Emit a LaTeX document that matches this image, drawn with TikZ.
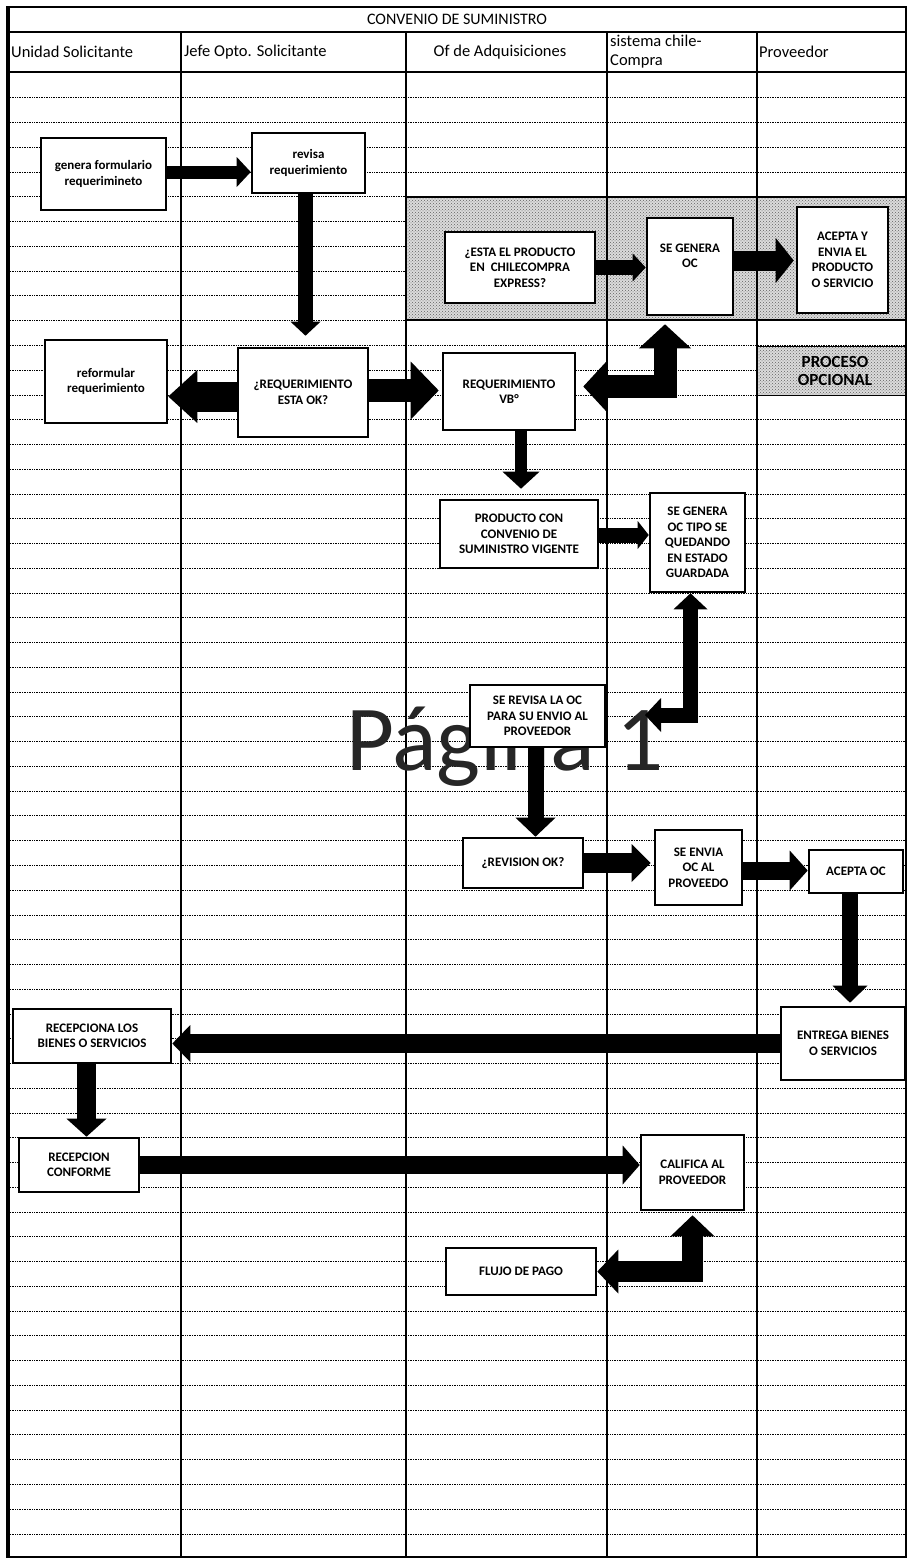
\documentclass[tikz,border=0pt]{standalone}
\usepackage{fontspec}
\setmainfont{Carlito}
\usetikzlibrary{arrows.meta,patterns}
\begin{document}
\begin{tikzpicture}[x=1pt,y=-1pt,
  box/.style={draw,line width=2.6pt,fill=white,inner sep=0pt,align=center,font=\bfseries\fontsize{13}{15.5}\selectfont},
  rowline/.style={line width=0.7pt,densely dotted},
  colline/.style={line width=1.3pt},
  hdr/.style={font=\fontsize{16.5}{19}\selectfont,inner sep=0pt},
  blk/.style n args={3}{line width=#1,-{Triangle[width=#2,length=#3,line width=0pt]}},
  dblk/.style n args={3}{line width=#1,{Triangle[width=#2,length=#3,line width=0pt]}-{Triangle[width=#2,length=#3,line width=0pt]}},
  shaded/.style={fill=gray!28,postaction={pattern=crosshatch dots,pattern color=gray!75!black}}
]
\useasboundingbox (0,0) rectangle (910,1558);
\fill[white] (0,0) rectangle (910,1558);
% row lines
\foreach \k in {1,...,59} \draw[rowline] (10,{73+\k*24.76}) -- (905,{73+\k*24.76});
% shaded optional area
\fill[shaded] (407,197) rectangle (906,320);
\draw[line width=1.2pt] (407,197) -- (906,197) (407,320) -- (906,320);
\fill[shaded] (757,346) rectangle (906,395);
\draw[line width=0.8pt] (757,346) rectangle (906,395);
% frame
\draw[line width=2pt] (8,7) -- (906,7);
\draw[line width=1.2pt] (8,32) -- (906,32);
\draw[line width=1.2pt] (8,72) -- (906,72);
\draw[line width=4pt] (8,6) -- (8,1558);
\draw[line width=1.6pt] (906,6) -- (906,1558);
\draw[line width=1.2pt] (8,1557) -- (906,1557);
\foreach \c in {181,406,607,757} \draw[colline] (\c,32) -- (\c,1558);
% header
\node[font=\fontsize{16}{18}\selectfont,inner sep=0pt] (title) at (457,19) {CONVENIO DE SUMINISTRO};
\node[hdr,anchor=west] (h1) at (11,52) {Unidad Solicitante};
\node[hdr,anchor=west] (h2) at (184,52) {Jefe Opto. Solicitante};
\node[hdr] (h3) at (500,52) {Of de Adquisiciones};
\node[hdr,anchor=west,align=left] (h4) at (610,52) {sistema chile-\\Compra};
\node[hdr,anchor=west] (h5) at (759,52) {Proveedor};
% watermark
\node[anchor=base west,inner sep=0pt,text=black!85,font=\fontsize{93}{93}\selectfont] (wm) at (346,770) {Página 1};
% boxes
\node[box,minimum width=125pt,minimum height=72pt] (genera) at (103.5,174) {genera formulario\\requerimineto};
\node[box,minimum width=113pt,minimum height=60pt] (revisa) at (308.5,163) {revisa\\requerimiento};
\node[box,minimum width=150pt,minimum height=71pt] (estaprod) at (520,267.5) {¿ESTA EL PRODUCTO\\EN\ \ CHILECOMPRA\\EXPRESS?};
\node[box,minimum width=86pt,minimum height=97pt] (segenera) at (690,266.5) {SE GENERA\\OC\\[6pt]};
\node[box,minimum width=91pt,minimum height=106pt] (aceptay) at (842.5,260) {ACEPTA Y\\ENVIA EL\\PRODUCTO\\O SERVICIO};
\node[inner sep=0pt,align=center,font=\bfseries\fontsize{17}{18}\selectfont] (proceso) at (835,371) {PROCESO\\OPCIONAL};
\node[box,minimum width=122pt,minimum height=83pt] (reformular) at (106,381.5) {reformular\\requerimiento};
\node[box,minimum width=130pt,minimum height=89pt] (reqok) at (303,392.5) {¿REQUERIMIENTO\\ESTA OK?};
\node[box,minimum width=132pt,minimum height=77pt] (reqvb) at (509,391.5) {REQUERIMIENTO\\VB°};
\node[box,minimum width=158pt,minimum height=68pt] (producto) at (519,534) {PRODUCTO CON\\CONVENIO DE\\SUMINISTRO VIGENTE};
\node[box,minimum width=95pt,minimum height=99pt] (octipo) at (697.5,542.5) {SE GENERA\\OC TIPO SE\\QUEDANDO\\EN ESTADO\\GUARDADA};
\node[box,minimum width=135pt,minimum height=62pt] (serevisa) at (537.5,716) {SE REVISA LA OC\\PARA SU ENVIO AL\\PROVEEDOR};
\node[box,minimum width=120pt,minimum height=50pt] (revok) at (523,863) {¿REVISION OK?};
\node[box,minimum width=87pt,minimum height=75pt] (seenvia) at (698.5,867.5) {SE ENVIA\\OC AL\\PROVEEDO};
\node[box,minimum width=94pt,minimum height=43pt] (aceptaoc) at (856,871.5) {ACEPTA OC};
\node[box,minimum width=124pt,minimum height=73pt] (entrega) at (843,1043.5) {ENTREGA BIENES\\O SERVICIOS};
\node[box,minimum width=158pt,minimum height=54pt] (recepciona) at (92,1036) {RECEPCIONA LOS\\BIENES O SERVICIOS};
\node[box,minimum width=120pt,minimum height=54pt] (recconf) at (79,1165) {RECEPCION\\CONFORME};
\node[box,minimum width=103pt,minimum height=75pt] (califica) at (692.5,1172.5) {CALIFICA AL\\PROVEEDOR};
\node[box,minimum width=150pt,minimum height=47pt] (flujo) at (521,1271.5) {FLUJO DE PAGO};
\coordinate (e8) at (645,715);
% arrows
\draw[blk={13pt}{30pt}{14pt}] ([yshift=2pt]genera.east) -- ([yshift=2pt]genera.east -| revisa.west);
\draw[blk={15pt}{30pt}{14pt},shorten >=11pt] ([xshift=-3pt]revisa.south) -- ([xshift=-3pt]revisa.south |- reqok.north);
\draw[blk={30pt}{53pt}{29pt}] ([yshift=-4pt]reqok.west) -- ([yshift=-4pt]reqok.west -| reformular.east);
\draw[blk={23pt}{58pt}{28pt},shorten >=3pt] ([yshift=2pt]reqok.east) -- ([yshift=2pt]reqok.east -| reqvb.west);
\draw[blk={15pt}{28pt}{13pt}] (estaprod.east) -- (estaprod.east -| segenera.west);
\draw[blk={20pt}{45pt}{18pt},shorten >=2pt] ([yshift=6pt]segenera.east) -- ([yshift=6pt]segenera.east -| aceptay.west);
\draw[dblk={23pt}{52pt}{24pt},shorten <=8pt,shorten >=7pt] ([xshift=-25pt]segenera.south) |- ([yshift=5pt]reqvb.east);
\draw[blk={12pt}{37pt}{17pt},shorten >=10pt] ([xshift=12pt]reqvb.south) -- ([xshift=12pt]reqvb.south |- producto.north);
\draw[blk={15pt}{28pt}{11pt}] ([yshift=-1pt]producto.east) -- ([yshift=-1pt]producto.east -| octipo.west);
\draw[dblk={15pt}{34pt}{16pt}] ([xshift=-7pt]octipo.south) |- (e8);
\draw[blk={16pt}{40pt}{19pt}] ([xshift=-2pt]serevisa.south) -- ([xshift=-2pt]serevisa.south |- revok.north);
\draw[blk={20pt}{38pt}{19pt},shorten >=3pt] (revok.east) -- (revok.east -| seenvia.west);
\draw[blk={18pt}{40pt}{18pt}] ([yshift=-3pt]seenvia.east) -- ([yshift=-3pt]seenvia.east -| aceptaoc.west);
\draw[blk={16pt}{35pt}{17pt},shorten >=3pt] ([xshift=-6pt]aceptaoc.south) -- ([xshift=-6pt]aceptaoc.south |- entrega.north);
\draw[blk={19pt}{37pt}{18pt}] (entrega.west) -- (entrega.west -| recepciona.east);
\draw[blk={19pt}{40pt}{18pt}] ([xshift=-5.5pt]recepciona.south) -- ([xshift=-5.5pt]recepciona.south |- recconf.north);
\draw[blk={18pt}{39pt}{17pt}] (recconf.east) -- (recconf.east -| califica.west);
\draw[dblk={21pt}{44pt}{21pt},shorten <=4pt] (califica.south) |- (flujo.east);
\end{tikzpicture}
\end{document}
